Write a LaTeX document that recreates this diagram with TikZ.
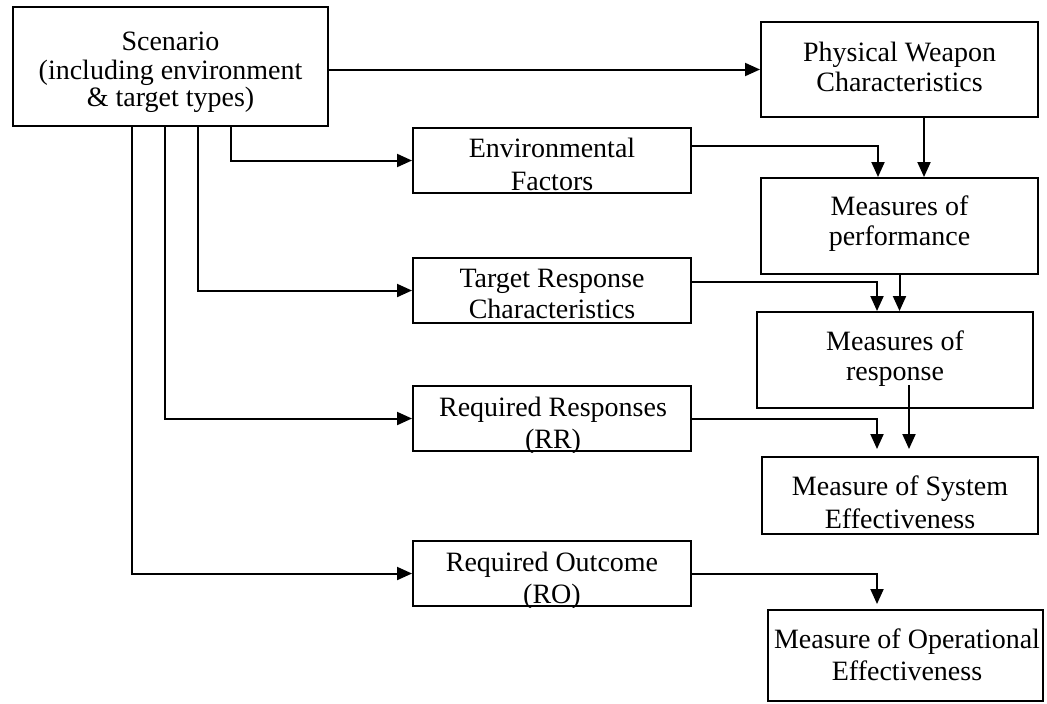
\documentclass[tikz,border=0pt]{standalone}
\usepackage{fontspec}
\setmainfont{Liberation Serif}
\usetikzlibrary{arrows.meta,calc,fit}

\begin{document}
\begin{tikzpicture}[x=0.5pt,y=-0.5pt,
  box/.style={draw=black,line width=1pt,inner sep=0pt,rectangle},
  txt/.style={anchor=base,inner sep=0pt,font=\fontsize{14pt}{16pt}\selectfont},
  link/.style={line width=1pt,-{Triangle[length=7.5pt,width=6.5pt]}}]
\useasboundingbox (0,0) rectangle (1047,703);

% boxes
\node[box,fit={(13,7) (328,126)}]    (scen) {};
\node[box,fit={(761,22) (1038,117)}] (pwc)  {};
\node[box,fit={(413,128) (691,193)}] (env)  {};
\node[box,fit={(413,258) (691,323)}] (trc)  {};
\node[box,fit={(413,386) (691,451)}] (rr)   {};
\node[box,fit={(413,541) (691,606)}] (ro)   {};
\node[box,fit={(761,178) (1038,274)}] (mop) {};
\node[box,fit={(757,312) (1033,408)}] (mor) {};
\node[box,fit={(762,457) (1038,534)}] (mse) {};
\node[box,fit={(768,610) (1043,701)}] (moe) {};

% box texts
\node[txt] (scen1) at (170.5,50.5) {Scenario};
\node[txt] (scen2) at (170.5,79)   {(including environment};
\node[txt] (scen3) at (170.5,106)  {\& target types)};

\node[txt] (pwc1) at (899.5,61) {Physical Weapon};
\node[txt] (pwc2) at (899.5,91) {Characteristics};

\node[txt] (env1) at (552,157.5) {Environmental};
\node[txt] (env2) at (552,190)   {Factors};

\node[txt] (trc1) at (552,287.5) {Target Response};
\node[txt] (trc2) at (552,318)   {Characteristics};

\begin{scope}
  \clip (rr.north west) rectangle (rr.south east);
  \node[txt] (rr1) at (553,416)   {Required Responses};
  \node[txt] (rr2) at (553,448.5) {(RR)};
\end{scope}

\begin{scope}
  \clip (ro.north west) rectangle (ro.south east);
  \node[txt] (ro1) at (552,571.5) {Required Outcome};
  \node[txt] (ro2) at (552,603.5) {(RO)};
\end{scope}

\node[txt] (mop1) at (899.5,215.5) {Measures of};
\node[txt] (mop2) at (899.5,245)   {performance};

\node[txt] (mor1) at (895,350.5) {Measures of};
\node[txt] (mor2) at (895,380)   {response};

\begin{scope}
  \clip (mse.north west) rectangle (mse.south east);
  \node[txt] (mse1) at (900,495)   {Measure of System};
  \node[txt] (mse2) at (900,528.5) {Effectiveness};
\end{scope}

\node[txt] (moe1) at (907,648)   {Measure of Operational};
\node[txt] (moe2) at (907,680.5) {Effectiveness};

% end points of arrows that stop short of their box
\coordinate (mseA) at ($(mse.north west)+(116,-7)$);
\coordinate (mseB) at ($(mse.north west)+(148,-7)$);
\coordinate (moeA) at ($(moe.north west)+(110,-5)$);

% connectors
\draw[link] (scen.east |- pwc.west) -- (pwc.west);
\draw[link] ($(scen.south west)+(219,0)$) |- (env.west);
\draw[link] ($(scen.south west)+(186,0)$) |- (trc.west);
\draw[link] ($(scen.south west)+(153,0)$) |- (rr.west);
\draw[link] ($(scen.south west)+(120,0)$) |- (ro.west);

\draw[link] ($(env.north east)+(0,19)$) -| ($(mop.north west)+(118,0)$);
\draw[link] ($(pwc.south west)+(164,0)$) -- ($(mop.north west)+(164,0)$);
\draw[link] ($(trc.north east)+(0,25)$) -| ($(mor.north west)+(121,0)$);
\draw[link] (mop.south) -- (mop.south |- mor.north);
\draw[link] (rr.east) -| (mseA);
\draw[link] ($(mor.north west)+(153,74)$) -- (mseB);
\draw[link] (ro.east) -| (moeA);
\end{tikzpicture}
\end{document}
